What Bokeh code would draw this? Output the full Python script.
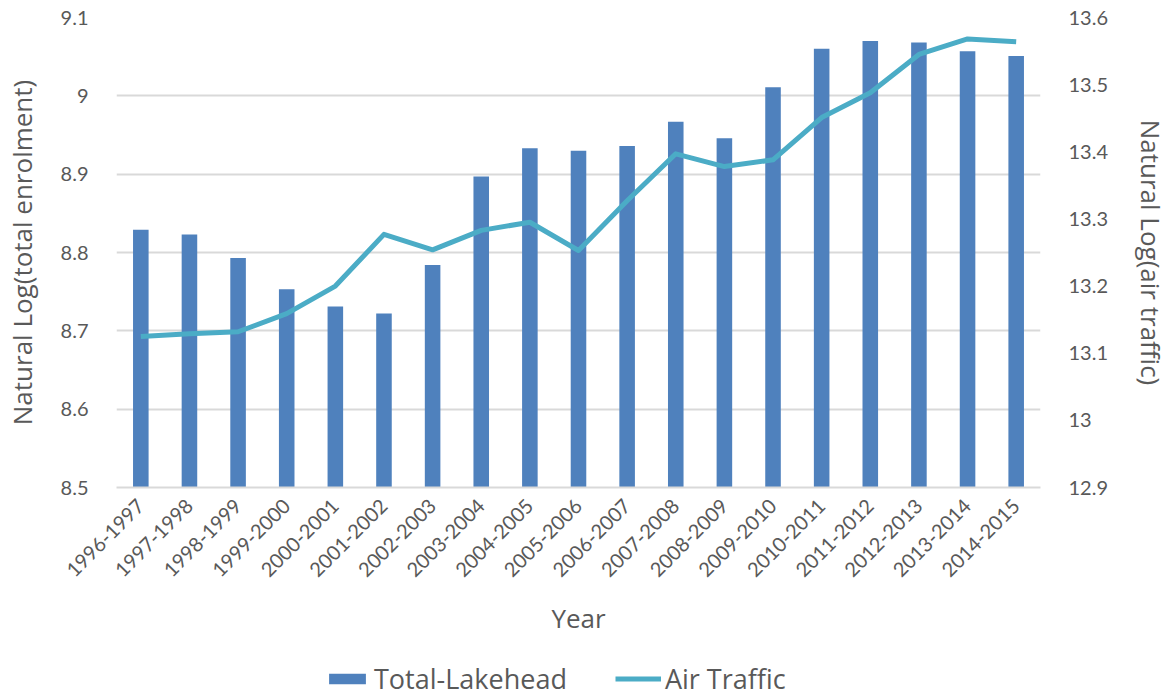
import math
from bokeh.plotting import figure
from bokeh.layouts import column
from bokeh.models import (Range1d, LinearAxis, FixedTicker, CustomJSTickFormatter,
                          Legend, LegendItem, FactorRange, ColumnDataSource)
from bokeh.embed import file_html
from bokeh.resources import INLINE

years = ["1996-1997", "1997-1998", "1998-1999", "1999-2000", "2000-2001",
         "2001-2002", "2002-2003", "2003-2004", "2004-2005", "2005-2006",
         "2006-2007", "2007-2008", "2008-2009", "2009-2010", "2010-2011",
         "2011-2012", "2012-2013", "2013-2014", "2014-2015"]
enrolment = [8.829, 8.823, 8.793, 8.753, 8.731, 8.722, 8.784, 8.897, 8.933,
             8.930, 8.936, 8.967, 8.946, 9.011, 9.060, 9.070, 9.068, 9.057, 9.051]
air_traffic = [13.125, 13.129, 13.132, 13.159, 13.200, 13.277, 13.254, 13.283,
               13.295, 13.253, 13.327, 13.397, 13.378, 13.388, 13.451, 13.488,
               13.545, 13.568, 13.564]
left_ticks = [8.5, 8.6, 8.7, 8.8, 8.9, 9.0, 9.1]
right_ticks = [12.9, 13.0, 13.1, 13.2, 13.3, 13.4, 13.5, 13.6]

BAR = "#4F81BD"
LINE = "#4BACC6"
TXT = "#595959"
GRID = "#D9D9D9"
TICK_FONT = "Lato"
TICK_SIZE = "20px"
TITLE_FONT = "Open Sans"
TITLE_SIZE = "26px"

src = ColumnDataSource(dict(year=years, enr=enrolment, air=air_traffic))

p = figure(width=1172, height=648, x_range=FactorRange(*years, range_padding=0),
           y_range=Range1d(8.5, 9.1), output_backend="svg", toolbar_location=None,
           min_border_left=105, min_border_right=124, min_border_top=17,
           min_border_bottom=161)
p.extra_y_ranges = {"right": Range1d(12.9, 13.6)}
p.outline_line_color = None
p.background_fill_color = "white"
p.border_fill_color = "white"

bar_style = dict(fill_color=BAR, line_color=None)
line_style = dict(line_color=LINE, line_width=5, line_join="round")

p.vbar(x="year", top="enr", bottom=8.5, width=0.32, source=src, **bar_style)
p.line(x="year", y="air", source=src, y_range_name="right", **line_style)

fmt = CustomJSTickFormatter(code="return (Math.round(tick*10)/10).toString();")


def style_axis(ax, standoff, label_standoff):
    ax.axis_line_color = None
    ax.major_tick_line_color = None
    ax.minor_tick_line_color = None
    ax.major_label_text_font = TICK_FONT
    ax.major_label_text_font_size = TICK_SIZE
    ax.major_label_text_color = TXT
    ax.major_label_standoff = standoff
    ax.axis_label_text_font = TITLE_FONT
    ax.axis_label_text_font_size = TITLE_SIZE
    ax.axis_label_text_font_style = "normal"
    ax.axis_label_text_color = TXT
    ax.axis_label_standoff = label_standoff


# left axis
ya = p.yaxis[0]
ya.ticker = FixedTicker(ticks=left_ticks)
ya.formatter = fmt
ya.axis_label = "Natural Log(total enrolment)"
style_axis(ya, 22, 18)

# right axis
ra = LinearAxis(y_range_name="right", ticker=FixedTicker(ticks=right_ticks),
                formatter=fmt, axis_label="Natural Log(air traffic)")
style_axis(ra, 22, 22)
p.add_layout(ra, "right")

# x axis
xa = p.xaxis[0]
xa.axis_label = "Year"
style_axis(xa, 9, 14)
xa.axis_line_color = GRID
xa.axis_line_width = 2
xa.major_label_orientation = math.pi / 4

p.xgrid.grid_line_color = None
p.ygrid.grid_line_color = GRID
p.ygrid.grid_line_width = 2
p.ygrid.ticker = FixedTicker(ticks=left_ticks)

# legend strip below the chart (series drawn out of view, used only for swatches)
lf = figure(width=1172, height=50, x_range=FactorRange(*years, range_padding=0),
            y_range=Range1d(100, 101), output_backend="svg", toolbar_location=None,
            x_axis_type=None, y_axis_type=None, min_border=0,
            min_border_left=105, min_border_right=124)
lf.outline_line_color = None
lf.xgrid.grid_line_color = None
lf.ygrid.grid_line_color = None
lb = lf.vbar(x="year", top="enr", bottom=8.5, width=0.32, source=src, **bar_style)
ll = lf.line(x="year", y="air", source=src, **line_style)
legend = Legend(items=[LegendItem(label="Total-Lakehead", renderers=[lb]),
                       LegendItem(label="Air Traffic", renderers=[ll])],
                orientation="horizontal", location=(208, 1),
                label_text_font=TITLE_FONT, label_text_font_size="27px",
                label_text_color=TXT, glyph_width=46, glyph_height=13,
                spacing=48, padding=0, margin=0, label_standoff=4,
                border_line_color=None, background_fill_alpha=0)
lf.add_layout(legend, "center")

layout = column(p, lf, spacing=0)
open("out.html", "w").write(file_html(layout, INLINE))
